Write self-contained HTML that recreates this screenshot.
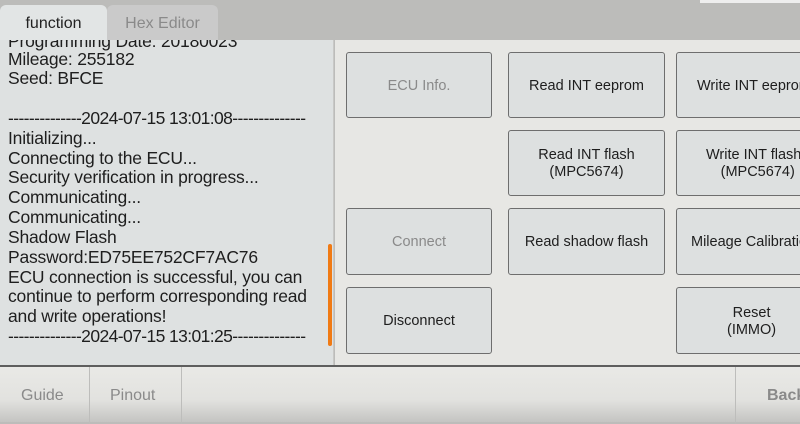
<!DOCTYPE html>
<html><head><meta charset="utf-8"><style>
*{margin:0;padding:0;box-sizing:border-box}
body{width:800px;height:422px;overflow:hidden;background:#bcbcba;font-family:"Liberation Sans",sans-serif;position:relative}
.tab{position:absolute;top:5px;height:36px;border-radius:6px 6px 0 0;font-size:16px;text-align:center;line-height:38px}
#left{position:absolute;left:0;top:40px;width:334px;height:325px;background:#dee1e1;overflow:hidden;border-right:1px solid #c8c8c6}
#left div{position:absolute;left:8px;font-size:17.5px;color:#1e1e1e;white-space:nowrap;letter-spacing:-0.2px}
#left div.d{letter-spacing:-0.6px}
#right{position:absolute;left:335px;top:40px;width:465px;height:325px;background:#e7e7e4}
.b{position:absolute;border:1.5px solid #6e6e6e;border-radius:3px;background:#dde0e0;display:flex;align-items:center;justify-content:center;text-align:center;font-size:14.5px;color:#1e1e1e;line-height:17px;white-space:nowrap;overflow:hidden;padding-top:2px}
.g{color:#8a8a8a}
#bot{position:absolute;left:0;top:365px;width:800px;height:57px;background:linear-gradient(#e9e9e6,#e2e2df 60%,#c4c4c2);border-top:2px solid #5e5e5e}
#bot span{position:absolute;top:20px;font-size:16px;color:#8a8a8a}
.sep{position:absolute;top:0;width:1px;height:57px;background:#bdbdbb}
</style></head><body>
<div class="tab" style="left:0;width:107px;background:#e2e5e5;color:#222">function</div>
<div class="tab" style="left:107px;width:111px;background:#cacaca;color:#8a8a8a">Hex Editor</div>
<div style="position:absolute;left:700px;top:0;width:100px;height:3px;background:#eee"></div>
<div id="left">
<div style="top:-9px">Programming Date: 20180023</div>
<div style="top:9px">Mileage: 255182</div>
<div style="top:28px">Seed: BFCE</div>
<div class="d" style="top:68px">--------------2024-07-15 13:01:08--------------</div>
<div style="top:88px">Initializing...</div>
<div style="top:108px">Connecting to the ECU...</div>
<div style="top:127px">Security verification in progress...</div>
<div style="top:147px">Communicating...</div>
<div style="top:167px">Communicating...</div>
<div style="top:187px">Shadow Flash</div>
<div style="top:207px">Password:ED75EE752CF7AC76</div>
<div style="top:227px">ECU connection is successful, you can</div>
<div style="top:246px">continue to perform corresponding read</div>
<div style="top:266px">and write operations!</div>
<div class="d" style="top:286px">--------------2024-07-15 13:01:25--------------</div>
<span style="position:absolute;left:328px;top:204px;width:4px;height:102px;background:#f07a14;border-radius:2px"></span>
</div>
<div id="right"></div>
<div class="b g" style="left:346px;top:52px;width:146px;height:66px">ECU Info.</div>
<div class="b" style="left:508px;top:52px;width:157px;height:66px">Read INT eeprom</div>
<div class="b" style="left:676px;top:52px;width:140px;height:66px;justify-content:flex-start;padding-left:20px">Write INT eeprom</div>
<div class="b" style="left:508px;top:130px;width:157px;height:66px">Read INT flash<br>(MPC5674)</div>
<div class="b" style="left:676px;top:130px;width:140px;height:66px;justify-content:flex-start;padding-left:29px">Write INT flash<br>&nbsp;&nbsp;(MPC5674)</div>
<div class="b g" style="left:346px;top:208px;width:146px;height:67px">Connect</div>
<div class="b" style="left:508px;top:208px;width:157px;height:67px">Read shadow flash</div>
<div class="b" style="left:676px;top:208px;width:140px;height:67px;justify-content:flex-start;padding-left:14px">Mileage Calibration</div>
<div class="b" style="left:346px;top:287px;width:146px;height:67px">Disconnect</div>
<div class="b" style="left:676px;top:287px;width:140px;height:67px;justify-content:flex-start;padding-left:50px">Reset<br>(IMMO)</div>
<div id="bot">
<span style="left:21px">Guide</span>
<div class="sep" style="left:89px"></div>
<span style="left:110px">Pinout</span>
<div class="sep" style="left:181px"></div>
<div class="sep" style="left:735px"></div>
<span style="left:767px;font-weight:bold">Back</span>
</div>
</body></html>
